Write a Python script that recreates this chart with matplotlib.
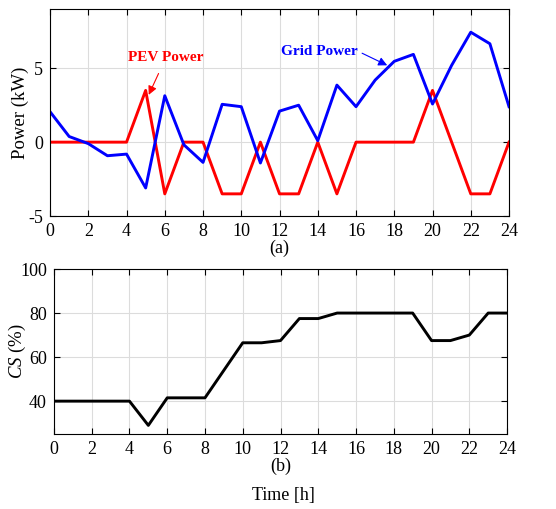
import numpy as np
import matplotlib
matplotlib.use("Agg")
import matplotlib.pyplot as plt

plt.rcParams['font.family'] = ['Liberation Serif', 'DejaVu Serif']
plt.rcParams['mathtext.fontset'] = 'custom'
plt.rcParams['mathtext.it'] = 'Liberation Serif:italic'
plt.rcParams['mathtext.rm'] = 'Liberation Serif'
plt.rcParams['axes.unicode_minus'] = False

hours = list(range(25))
grid_power = [2.06, 0.38, -0.1, -0.92, -0.81, -3.1, 3.14, -0.18, -1.37, 2.56, 2.4,
              -1.41, 2.1, 2.5, 0.1, 3.86, 2.4, 4.2, 5.47, 5.94, 2.58, 5.2, 7.44, 6.66, 2.4]
pev_power = [0, 0, 0, 0, 0, 3.5, -3.5, 0, 0, -3.5, -3.5, 0, -3.5, -3.5, 0, -3.5,
             0, 0, 0, 0, 3.5, 0, -3.5, -3.5, 0]
charge_state = [40, 40, 40, 40, 40, 29, 41.5, 41.5, 41.5, 54, 66.5, 66.5, 67.5, 77.5,
                77.5, 80, 80, 80, 80, 80, 67.5, 67.5, 70, 80, 80]
xticks = list(range(0, 25, 2))

fig = plt.figure(figsize=(5.56, 5.09), dpi=100)
ax1 = fig.add_axes([0.09, 0.5756, 0.8255, 0.4064])
ax2 = fig.add_axes([0.097, 0.147, 0.815, 0.3245])

for ax in (ax1, ax2):
    ax.grid(True, color='#dcdcdc', linewidth=0.8)
    ax.set_axisbelow(True)
    ax.tick_params(direction='in', top=True, right=True, labelsize=13, length=4, pad=5)
    ax.set_xlim(0, 24)
    ax.set_xticks(xticks)

ax1.plot(hours, pev_power, color='#ff0000', linewidth=2.1)
ax1.plot(hours, grid_power, color='#0000ff', linewidth=2.1)
ax1.set_ylim(-5, 9)
ax1.set_yticks([-5, 0, 5])
ax1.text(-0.065, 0.5, 'Power (kW)', transform=ax1.transAxes, rotation=90,
         ha='center', va='center', fontsize=13.5)
ax1.set_xlabel('(a)', fontsize=13, labelpad=0)

ax1.annotate('PEV Power', xy=(5.16, 3.2), xytext=(6.05, 5.7), color='#ff0000',
             fontsize=11, fontweight='bold', ha='center', va='center',
             arrowprops=dict(arrowstyle='-|>', color='#ff0000', lw=0.8,
                             shrinkA=5, shrinkB=0, mutation_scale=13))
ax1.annotate('Grid Power', xy=(17.63, 5.2), xytext=(14.1, 6.15), color='#0000ff',
             fontsize=11, fontweight='bold', ha='center', va='center',
             arrowprops=dict(arrowstyle='-|>', color='#0000ff', lw=0.8,
                             shrinkA=1, shrinkB=0, mutation_scale=13,
                             relpos=(1.0, 0.5)))

ax2.plot(hours, charge_state, color='black', linewidth=2.1)
ax2.set_ylim(25, 100)
ax2.set_yticks([40, 60, 80, 100])
ax2.text(-0.08, 0.5, r'$CS$ (%)', transform=ax2.transAxes, rotation=90,
         ha='center', va='center', fontsize=13.5)
ax2.set_xlabel('(b)', fontsize=13, labelpad=0)

fig.text(0.51, 0.027, 'Time [h]', ha='center', va='center', fontsize=13)

fig.savefig('out.png', dpi=100)
